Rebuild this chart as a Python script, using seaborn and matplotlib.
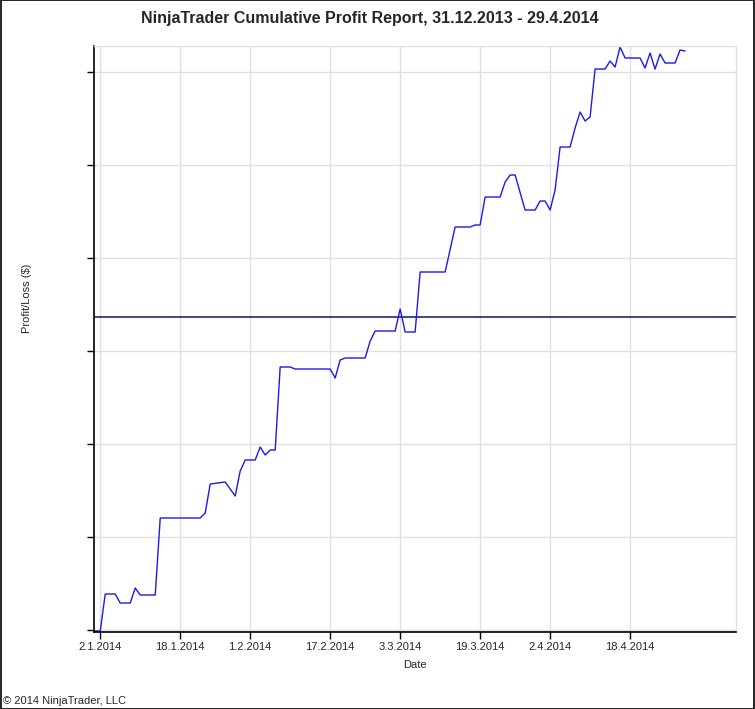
import numpy as np
import pandas as pd
import matplotlib
matplotlib.use('Agg')
import matplotlib.pyplot as plt
from matplotlib.patches import Rectangle
import seaborn as sns

# ============================================
# DADOS (lidos do relatório)
# ============================================
trade_dates = [
    '31.12.2013', '2.1.2014', '3.1.2014', '5.1.2014', '6.1.2014', '8.1.2014',
    '9.1.2014', '10.1.2014', '13.1.2014', '14.1.2014', '22.1.2014', '23.1.2014',
    '24.1.2014', '27.1.2014', '29.1.2014', '30.1.2014', '31.1.2014', '2.2.2014',
    '3.2.2014', '4.2.2014', '5.2.2014', '6.2.2014', '7.2.2014', '9.2.2014',
    '10.2.2014', '17.2.2014', '18.2.2014', '19.2.2014', '20.2.2014', '24.2.2014',
    '25.2.2014', '26.2.2014', '2.3.2014', '3.3.2014', '4.3.2014', '6.3.2014',
    '7.3.2014', '12.3.2014', '14.3.2014', '17.3.2014', '18.3.2014', '19.3.2014',
    '20.3.2014', '23.3.2014', '24.3.2014', '25.3.2014', '26.3.2014', '28.3.2014',
    '30.3.2014', '31.3.2014', '1.4.2014', '2.4.2014', '3.4.2014', '4.4.2014',
    '6.4.2014', '7.4.2014', '8.4.2014', '9.4.2014', '10.4.2014', '11.4.2014',
    '13.4.2014', '14.4.2014', '15.4.2014', '16.4.2014', '17.4.2014', '20.4.2014',
    '21.4.2014', '22.4.2014', '23.4.2014', '24.4.2014', '25.4.2014', '27.4.2014',
    '28.4.2014', '29.4.2014',
]
cum_profit = [
    -6280, -6280, -5540, -5540, -5720, -5720,
    -5420, -5560, -5560, -4020, -4020, -3920,
    -3340, -3300, -3580, -3080, -2860, -2860,
    -2600, -2760, -2660, -2660, -1000, -1000,
    -1040, -1040, -1220, -860, -820, -820,
    -480, -280, -280, 160, -300, -300,
    900, 900, 1800, 1800, 1840, 1840,
    2400, 2400, 2700, 2840, 2840, 2140,
    2140, 2320, 2320, 2140, 2540, 3400,
    3400, 3780, 4100, 3920, 4000, 4960,
    4960, 5120, 5000, 5400, 5180, 5180,
    4980, 5280, 4960, 5260, 5080, 5080,
    5340, 5320,
]
tick_dates = ['2.1.2014', '18.1.2014', '1.2.2014', '17.2.2014',
              '3.3.2014', '19.3.2014', '2.4.2014', '18.4.2014']
y_ticks = [-6260, -4400, -2540, -680, 1180, 3040, 4900]

df = pd.DataFrame({
    'Date': pd.to_datetime(trade_dates, format='%d.%m.%Y'),
    'Profit': cum_profit,
})
ticks = pd.to_datetime(tick_dates, format='%d.%m.%Y')

# ============================================
# GRÁFICO
# ============================================
sns.set_style('white')
plt.rcParams['font.family'] = ['Liberation Sans', 'DejaVu Sans']

fig = plt.figure(figsize=(7.55, 7.09), dpi=100)
ax = fig.add_axes([0.1245, 0.1086, 0.8499, 0.8265])

grid_color = '#e0e0e0'
for t in ticks:
    ax.axvline(t, color=grid_color, lw=1, zorder=0)
for v in y_ticks:
    ax.axhline(v, color=grid_color, lw=1, zorder=0)

# linha do zero
ax.axhline(0, color='#14145a', lw=1.1, zorder=1)

sns.lineplot(data=df, x='Date', y='Profit', ax=ax, color='#1a1aee',
             linewidth=1.0, estimator=None, sort=False, zorder=2)

ax.set_xlim(pd.Timestamp('2013-12-31 18:00'), pd.Timestamp('2014-05-09 03:00'))
ax.set_ylim(-6300, 5420)

ax.set_xticks(ticks)
ax.set_xticklabels([f'{d.day}.{d.month}.{d.year}' for d in ticks], fontsize=8)
ax.set_yticks(y_ticks)
ax.set_yticklabels([])
ax.tick_params(axis='both', direction='out', length=5, width=1, color='black',
               bottom=True, left=True, pad=2)

for side in ['left', 'bottom']:
    ax.spines[side].set_color('black')
    ax.spines[side].set_linewidth(1.2)
for side in ['top', 'right']:
    ax.spines[side].set_color(grid_color)
    ax.spines[side].set_linewidth(1)

ax.set_xlabel('Date', fontsize=8, labelpad=6)
ax.set_ylabel('')
fig.text(27 / 755, 1 - 298 / 709, 'Profit/Loss ($)', rotation=90,
         ha='center', va='center', fontsize=8)

fig.text(370 / 755, 1 - 18 / 709,
         'NinjaTrader Cumulative Profit Report, 31.12.2013 - 29.4.2014',
         ha='center', va='center', fontsize=11.5, fontweight='bold')
fig.text(3 / 755, 1 - 701 / 709, '\u00a9 2014 NinjaTrader, LLC',
         ha='left', va='center', fontsize=8)

# borda preta ao redor da imagem
fig.patches.append(Rectangle((0.0007, 0.0007), 0.9986, 0.9986, transform=fig.transFigure,
                             fill=False, edgecolor='black', lw=1.2))

fig.savefig('out.png', dpi=100)
